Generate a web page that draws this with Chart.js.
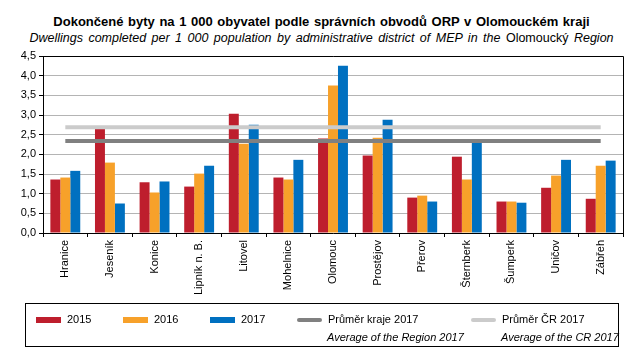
<!DOCTYPE html>
<html>
<head>
<meta charset="utf-8">
<script src="https://cdn.jsdelivr.net/npm/chart.js@4/dist/chart.umd.min.js"></script>
<style>
	html, body { margin: 0; padding: 0; background: #fff; }
	body { width: 643px; height: 353px; position: relative; overflow: hidden; font-family: 'Liberation Sans', Arial, sans-serif; color: #000; }
	#chart { position: absolute; left: 0; top: 0; }
	.title { position: absolute; left: 0; width: 643px; text-align: center; white-space: nowrap; }
	.title--main { top: 14px; font-size: 13px; font-weight: bold; word-spacing: 1px; }
	.title--sub { top: 31px; font-size: 12.5px; font-style: italic; word-spacing: 2px; }
	.title--sub .up { font-style: normal; }
	.legend { position: absolute; left: 25px; top: 303px; width: 592px; height: 42px; border: 1px solid #000; }
	.legend__sw { position: absolute; height: 6px; top: 13px; width: 25px; }
	.legend__sw--line { height: 4px; top: 14px; border-radius: 2px; }
	.legend__txt { position: absolute; top: 9px; font-size: 11px; white-space: nowrap; }
	.legend__en { position: absolute; top: 27px; font-size: 11px; font-style: italic; white-space: nowrap; }
</style>
</head>
<body>
<div class="title title--main">Dokončené byty na 1 000 obyvatel podle správních obvodů ORP v Olomouckém kraji</div>
<div class="title title--sub">Dwellings completed per 1 000 population by administrative district of MEP in the <span class="up">Olomoucký</span> Region</div>
<canvas id="chart" width="643" height="353"></canvas>
<div class="legend" id="legend"></div>
<script>
(function () {
	'use strict';

	// ─── Data ───
	var categories = ['Hranice', 'Jeseník', 'Konice', 'Lipník n. B.', 'Litovel', 'Mohelnice', 'Olomouc',
		'Prostějov', 'Přerov', 'Šternberk', 'Šumperk', 'Uničov', 'Zábřeh'];
	var values2015 = [1.36, 2.65, 1.29, 1.18, 3.03, 1.41, 2.40, 1.97, 0.90, 1.94, 0.80, 1.15, 0.87];
	var values2016 = [1.41, 1.79, 1.03, 1.51, 2.27, 1.36, 3.75, 2.42, 0.95, 1.36, 0.80, 1.46, 1.71];
	var values2017 = [1.58, 0.75, 1.31, 1.71, 2.75, 1.86, 4.25, 2.88, 0.80, 2.30, 0.77, 1.86, 1.84];
	var regionAvg2017 = 2.34;
	var crAvg2017 = 2.69;
	var yTicks = [0, 0.5, 1, 1.5, 2, 2.5, 3, 3.5, 4, 4.5];

	// ─── Palette ───
	var colors = {
		red: '#BE1E2D',
		orange: '#F7A12A',
		blue: '#0070C0',
		region: '#808080',
		cr: '#CBCBCB',
		grid: '#B4B4B4',
		axis: '#000000'
	};

	var firstCat = categories[0];
	var lastCat = categories[categories.length - 1];

	function avgLine(label, value, color) {
		return {
			type: 'line',
			label: label,
			data: [{ x: firstCat, y: value }, { x: lastCat, y: value }],
			borderColor: color,
			backgroundColor: color,
			borderWidth: 4,
			borderCapStyle: 'butt',
			pointRadius: 0,
			fill: false,
			order: 0
		};
	}

	function barSet(label, values, color) {
		return {
			type: 'bar',
			label: label,
			data: values,
			backgroundColor: color,
			borderWidth: 0,
			categoryPercentage: 0.67,
			barPercentage: 1.0,
			order: 1
		};
	}

	// frame on top and right of the plot area
	var framePlugin = {
		id: 'frame',
		afterDraw: function (chart) {
			var a = chart.chartArea;
			var ctx = chart.ctx;
			ctx.save();
			ctx.strokeStyle = colors.axis;
			ctx.lineWidth = 1;
			ctx.beginPath();
			ctx.moveTo(a.left, a.top + 0.5);
			ctx.lineTo(a.right + 0.5, a.top + 0.5);
			ctx.lineTo(a.right + 0.5, a.bottom);
			ctx.stroke();
			ctx.restore();
		}
	};

	Chart.defaults.font.family = "'Liberation Sans', Arial, sans-serif";
	Chart.defaults.color = '#000';

	new Chart(document.getElementById('chart').getContext('2d'), {
		data: {
			labels: categories,
			datasets: [
				avgLine('Průměr kraje 2017', regionAvg2017, colors.region),
				avgLine('Průměr ČR 2017', crAvg2017, colors.cr),
				barSet('2015', values2015, colors.red),
				barSet('2016', values2016, colors.orange),
				barSet('2017', values2017, colors.blue)
			]
		},
		options: {
			responsive: false,
			animation: false,
			layout: { padding: { top: 56, right: 20, bottom: 50, left: 0 } },
			plugins: {
				legend: { display: false },
				tooltip: { enabled: false }
			},
			scales: {
				x: {
					offset: true,
					afterFit: function (s) { s.height = 70; },
					grid: {
						offset: true,
						drawOnChartArea: false,
						drawTicks: true,
						tickLength: 4,
						tickColor: colors.axis
					},
					border: { color: colors.axis },
					ticks: {
						autoSkip: false,
						minRotation: 90,
						maxRotation: 90,
						padding: 3,
						font: { size: 11 }
					}
				},
				y: {
					min: 0,
					max: 4.5,
					afterFit: function (s) { s.width = 43; },
					afterBuildTicks: function (s) {
						s.ticks = yTicks.map(function (v) { return { value: v }; });
					},
					grid: {
						color: colors.grid,
						tickLength: 4,
						tickColor: colors.axis
					},
					border: { color: colors.axis },
					ticks: {
						padding: 3,
						font: { size: 11 },
						callback: function (v) { return v.toFixed(1).replace('.', ','); }
					}
				}
			}
		},
		plugins: [framePlugin]
	});

	// ─── Legend ───
	var legendItems = [
		{ label: '2015', color: colors.red, x: 10, line: false },
		{ label: '2016', color: colors.orange, x: 97, line: false },
		{ label: '2017', color: colors.blue, x: 184, line: false },
		{ label: 'Průměr kraje 2017', en: 'Average of the Region 2017', color: colors.region, x: 271, line: true },
		{ label: 'Průměr ČR 2017', en: 'Average of the CR 2017', color: colors.cr, x: 445, line: true }
	];
	var legend = document.getElementById('legend');
	legendItems.forEach(function (it) {
		var sw = document.createElement('div');
		sw.className = 'legend__sw' + (it.line ? ' legend__sw--line' : '');
		sw.style.left = it.x + 'px';
		sw.style.background = it.color;
		legend.appendChild(sw);
		var t = document.createElement('div');
		t.className = 'legend__txt';
		t.style.left = (it.x + 31) + 'px';
		t.textContent = it.label;
		legend.appendChild(t);
		if (it.en) {
			var e = document.createElement('div');
			e.className = 'legend__en';
			e.style.left = (it.x + 30) + 'px';
			e.textContent = it.en;
			legend.appendChild(e);
		}
	});
})();
</script>
</body>
</html>
